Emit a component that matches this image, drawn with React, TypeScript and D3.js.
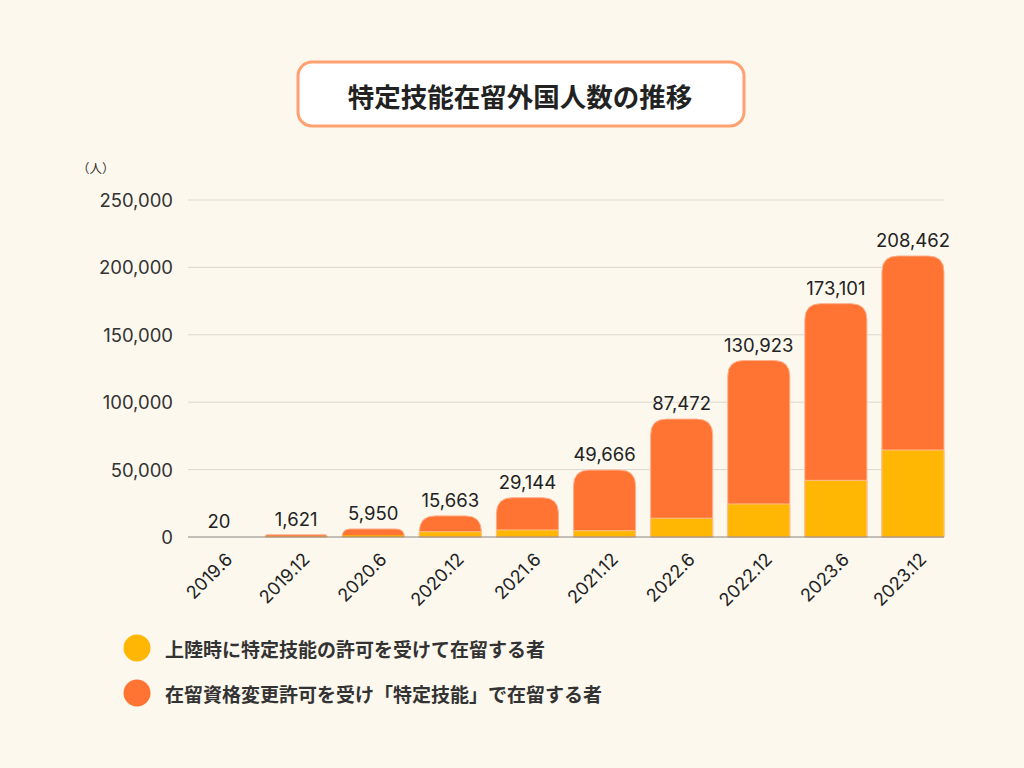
import React from 'react';
import * as d3 from 'd3';

const periods = ['2019.6', '2019.12', '2020.6', '2020.12', '2021.6', '2021.12', '2022.6', '2022.12', '2023.6', '2023.12'];
const totals = [20, 1621, 5950, 15663, 29144, 49666, 87472, 130923, 173101, 208462];
const entryOnArrival = [10, 400, 1300, 3900, 5200, 4700, 13900, 24500, 42000, 64500];
const yTicks = [0, 50000, 100000, 150000, 200000, 250000];
const legendLabels = ['上陸時に特定技能の許可を受けて在留する者', '在留資格変更許可を受け「特定技能」で在留する者'];
const colors = ['#ffb703', '#ff7433'];

const W = 1024;
const H = 768;
const jpFont = '"Noto Sans CJK JP", "Noto Sans", sans-serif';
const numFont = 'Inter, "Noto Sans", sans-serif';

// rounded-top rect path
const topRounded = (x: number, y: number, w: number, h: number, r: number) => {
  const rr = Math.min(r, h, w / 2);
  return `M${x},${y + h} L${x},${y + rr} Q${x},${y} ${x + rr},${y} L${x + w - rr},${y} Q${x + w},${y} ${x + w},${y + rr} L${x + w},${y + h} Z`;
};

const App = () => {
  const x = d3.scaleBand<string>().domain(periods).range([188, 944]).paddingInner(0.195).paddingOuter(0);
  const y = d3.scaleLinear().domain([0, 250000]).range([537, 200]);
  const fmt = d3.format(',');

  return (
    <svg width={W} height={H} style={{ position: 'absolute', left: 0, top: 0, display: 'block' }}>
      <rect width={W} height={H} fill="#fcf8ee" />

      {/* Title */}
      <rect x={298} y={62} width={446} height={64} rx={14} fill="#fff" stroke="#ffa070" strokeWidth={3} />
      <text x={520} y={95} textAnchor="middle" dominantBaseline="central" fontFamily={jpFont} fontWeight={700} fontSize={26.5} fill="#222">
        特定技能在留外国人数の推移
      </text>

      {/* unit */}
      <text x={77} y={173} fontFamily={jpFont} fontSize={12.5} fill="#333">（人）</text>

      {/* grid + y ticks */}
      {yTicks.map((t) => (
        <g key={t}>
          {t > 0 && <line x1={188} x2={944} y1={y(t)} y2={y(t)} stroke="#dcd8cf" strokeWidth={1} />}
          <text x={173} y={y(t)} textAnchor="end" dominantBaseline="central" fontFamily={numFont} fontSize={18.5} fill="#333">
            {fmt(t)}
          </text>
        </g>
      ))}

      {/* bars */}
      {periods.map((p, i) => {
        const bx = x(p) as number;
        const bw = x.bandwidth();
        const yEntry = y(entryOnArrival[i]);
        const yTop = y(totals[i]);
        const hEntry = y(0) - yEntry;
        const hChange = yEntry - yTop;
        return (
          <g key={p}>
            {totals[i] > 100 && (
              <>
                <path d={topRounded(bx, yTop, bw, y(0) - yTop, 16)} fill={colors[1]} stroke="#ffb08c" strokeWidth={1} />
                <path d={topRounded(bx, yEntry, bw, hEntry, hChange < 16 ? 16 - hChange : 0)} fill={colors[0]} stroke="#ffc08c" strokeWidth={hEntry > 2 ? 1 : 0} />
              </>
            )}
            <text x={bx + bw / 2} y={yTop - 9} textAnchor="middle" fontFamily={numFont} fontSize={18.5} fill="#222">
              {fmt(totals[i])}
            </text>
            <text
              transform={`translate(${bx + bw / 2 + 10},${556}) rotate(-45)`}
              textAnchor="end"
              dominantBaseline="central"
              fontFamily={numFont}
              fontSize={18}
              fill="#222"
            >
              {p}
            </text>
          </g>
        );
      })}

      {/* baseline */}
      <line x1={188} x2={944} y1={y(0)} y2={y(0)} stroke="#8a8580" strokeWidth={1} />

      {/* legend */}
      {legendLabels.map((l, i) => (
        <g key={l} transform={`translate(0,${648 + i * 45})`}>
          <circle cx={137} cy={0} r={13.5} fill={colors[i]} />
          <text x={165} y={0} dominantBaseline="central" fontFamily={jpFont} fontWeight={700} fontSize={19} fill="#333">
            {l}
          </text>
        </g>
      ))}
    </svg>
  );
};

export default App;
